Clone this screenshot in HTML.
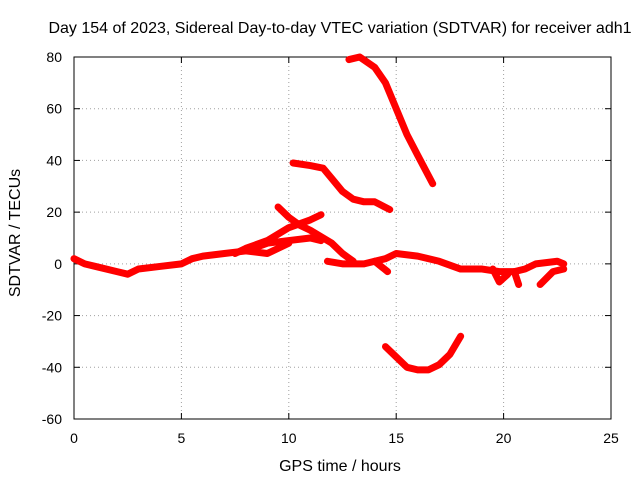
<!DOCTYPE html>
<html><head><meta charset="utf-8"><style>
body{margin:0;background:#fff}
svg text{font-family:"Liberation Sans",sans-serif;font-size:14px;fill:#000}
svg text.big{font-size:16px}
</style></head><body>
<svg id="c" width="640" height="480" xmlns="http://www.w3.org/2000/svg">
<text class="big" x="340" y="33" text-anchor="middle">Day 154 of 2023, Sidereal Day-to-day VTEC variation (SDTVAR) for receiver adh1</text>
<text class="big" x="340" y="471" text-anchor="middle">GPS time / hours</text>
<text class="big" transform="translate(20,233) rotate(-90)" text-anchor="middle">SDTVAR / TECUs</text>
<g id="grid"></g><g id="marks"></g>
</svg>
<script>
const xTicks=[0,5,10,15,20,25];
const yTicks=[-60,-40,-20,0,20,40,60,80];
const traceMain=[[0,2],[0.5,0],[1,-1],[2,-3],[2.5,-4],[3,-2],[4,-1],[5,0],[5.5,2],[6,3],[7,4],[8,5],[9,8],[10,9],[11,10],[11.5,9]];
const traceUpper=[[7.5,4],[8,6],[9,9],[10,14],[11,17],[11.5,19]];
const traceBranch=[[9.5,22],[10,18],[10.5,15],[11,13],[12,8],[12.5,4],[13,1]];
const traceLower=[[8,5],[9,4],[9.5,6],[10,8]];
const traceRight=[[11.8,1],[12.5,0],[13.5,0],[14.5,2],[15,4],[16,3],[17,1],[18,-2],[19,-2],[19.8,-3],[20.5,-3],[21,-2],[21.5,0],[22.5,1],[22.8,0]];
const traceDip1=[[19.5,-2],[19.8,-7],[20.2,-4]];
const traceDip2=[[20.5,-3],[20.7,-8]];
const traceDip3=[[21.7,-8],[22.3,-3],[22.8,-2]];
const traceSpike=[[14,1],[14.6,-3]];
const traceHigh=[[12.8,79],[13.3,80],[14,76],[14.5,70],[15,60],[15.5,50],[16,42],[16.7,31]];
const traceMid=[[10.2,39],[11,38],[11.6,37],[12,33],[12.5,28],[13,25],[13.5,24],[14,24],[14.7,21]];
const traceNeg=[[14.5,-32],[15,-36],[15.5,-40],[16,-41],[16.5,-41],[17,-39],[17.5,-35],[18,-28]];
const traces=[traceMain,traceUpper,traceBranch,traceLower,traceRight,traceDip1,traceDip2,traceDip3,traceSpike,traceHigh,traceMid,traceNeg];
const X0=74,X1=611,Y0=419,Y1=57;
const sx=v=>X0+(v-0)/(25-0)*(X1-X0);
const sy=v=>Y0-(v+60)/(140)*(Y0-Y1);
const NS="http://www.w3.org/2000/svg";
const g=document.getElementById('grid'),m=document.getElementById('marks');
function mk(tag,attrs,parent){const e=document.createElementNS(NS,tag);for(const k in attrs)e.setAttribute(k,attrs[k]);parent.appendChild(e);return e;}
xTicks.forEach(t=>{const x=sx(t);
 if(t>0&&t<25){const l=mk('line',{x1:x,x2:x,y1:Y0,y2:Y1,stroke:'#a0a0a0','stroke-dasharray':'1,3'},g);}
 mk('line',{x1:x,x2:x,y1:Y0,y2:Y0-6,stroke:'#000'},g);mk('line',{x1:x,x2:x,y1:Y1,y2:Y1+6,stroke:'#000'},g);
 const tx=mk('text',{x:x,y:Y0+24,'text-anchor':'middle'},g);tx.textContent=t;
 });
yTicks.forEach(t=>{const y=sy(t);
 if(t>-60&&t<80){const l=mk('line',{x1:X0,x2:X1,y1:y,y2:y,stroke:'#a0a0a0','stroke-dasharray':'1,3'},g);}
 mk('line',{x1:X0,x2:X0+6,y1:y,y2:y,stroke:'#000'},g);mk('line',{x1:X1,x2:X1-6,y1:y,y2:y,stroke:'#000'},g);
 const tx=mk('text',{x:X0-12,y:y+5,'text-anchor':'end'},g);tx.textContent=t;
 });
const fr=mk('rect',{x:X0,y:Y1,width:X1-X0,height:Y0-Y1,fill:'none',stroke:'#000'},g);

traces.forEach(tr=>{const p=mk('polyline',{points:tr.map(d=>sx(d[0])+','+sy(d[1])).join(' '),fill:'none',stroke:'#f00','stroke-width':7,'stroke-linejoin':'round','stroke-linecap':'round'},m);
 });
</script>
</body></html>
